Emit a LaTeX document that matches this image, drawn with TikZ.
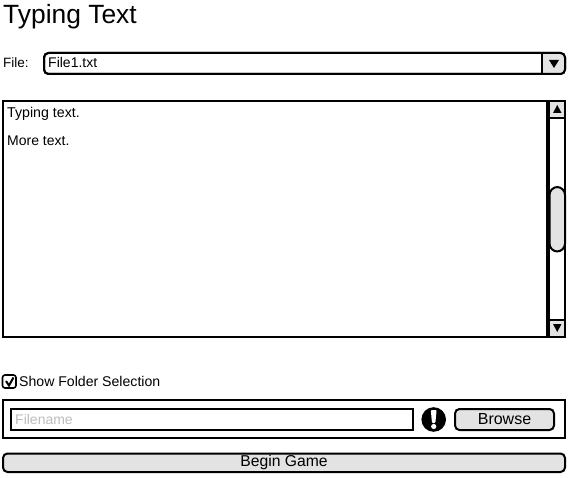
\documentclass[tikz,border=0pt]{standalone}
\usepackage{fontspec}
\setmainfont{Liberation Sans}
\definecolor{btn}{HTML}{E3E3E3}
\definecolor{hint}{HTML}{BDBDBD}
\tikzset{
  frame/.style={draw=black,line width=2pt,fill=white},
  rbtn/.style={draw=black,line width=2pt,fill=btn,rounded corners=4.5pt},
  sbtn/.style={draw=black,line width=1.5pt,fill=btn},
  tri/.style={fill=black,draw=none},
  lbl/.style={inner sep=0pt,anchor=base west,text=black},
}
\newcommand{\fs}[1]{\fontsize{#1}{#1}\selectfont}
\begin{document}
\begin{tikzpicture}[x=1pt,y=-1pt]
\useasboundingbox[fill=white] (0,0) rectangle (570,478);
\node[lbl] (title) at (3,24) {\fs{26.4}Typing Text};
\node[lbl] (filelbl) at (3,67.5) {\fs{13.5}File:};
% combo
\draw[frame,rounded corners=4.5pt] (44,53) rectangle (565,74);
\begin{scope}
\clip[rounded corners=4.5pt] (44,53) rectangle (565,74);
\fill[btn] (542,53) rectangle (565,74);
\draw[line width=2pt] (542,53) -- (542,74);
\end{scope}
\draw[line width=2pt,rounded corners=4.5pt] (44,53) rectangle (565,74);
\fill[tri] (549,60) -- (559,60) -- (554,68) -- cycle;
\node[lbl] (filename) at (48,68) {\fs{14}File1.txt};
% text area
\draw[frame] (3,101) rectangle (565,336.5);
\node[lbl] (t1) at (7,117.5) {\fs{14.2}Typing text.};
\node[lbl] (t2) at (7,145.5) {\fs{14}More text.};
% scrollbar
\fill[black] (546,101) rectangle (550,336.5);
\draw[sbtn] (549.5,101.5) rectangle (565,118);
\draw[sbtn] (549.5,320) rectangle (565,336.5);
\fill[tri] (553,113) -- (561.5,113) -- (557.25,105) -- cycle;
\fill[tri] (553,324) -- (561.5,324) -- (557.25,332) -- cycle;
\draw[line width=2pt] (3,101) rectangle (565,336.5);
\draw[line width=2pt,fill=btn,rounded corners=8pt] (549.5,187) rectangle (565,251.5);
% checkbox
\draw[line width=1.6pt,rounded corners=2.5pt,fill=white] (2.5,375) rectangle (16,388);
\draw[line width=2pt] (6,381) -- (9,385.5) -- (13.5,377.5);
\node[lbl] (show) at (19,386) {\fs{14.1}Show Folder Selection};
% folder box
\draw[frame] (3,400) rectangle (565,438);
\draw[frame] (11,409) rectangle (413,430);
\node[lbl,text=hint] (fn) at (15,424) {\fs{14}Filename};
\fill[black] (433.7,419.5) circle (12.3);
\fill[white,rounded corners=1pt] (430.8,410) -- (436.6,410) -- (435.4,423) -- (432,423) -- cycle;
\fill[white] (433.7,426.5) circle (2.6);
\node[rbtn,minimum width=99pt,minimum height=21pt,inner sep=0pt] (browse) at (504.5,419.5) {\raisebox{-1pt}{\fs{16}Browse}};
\node[rbtn,minimum width=562pt,minimum height=18.5pt,inner sep=0pt] (begin) at (284,462.75) {\raisebox{-2.4pt}{\fs{15.7}Begin Game}};
\end{tikzpicture}
\end{document}
